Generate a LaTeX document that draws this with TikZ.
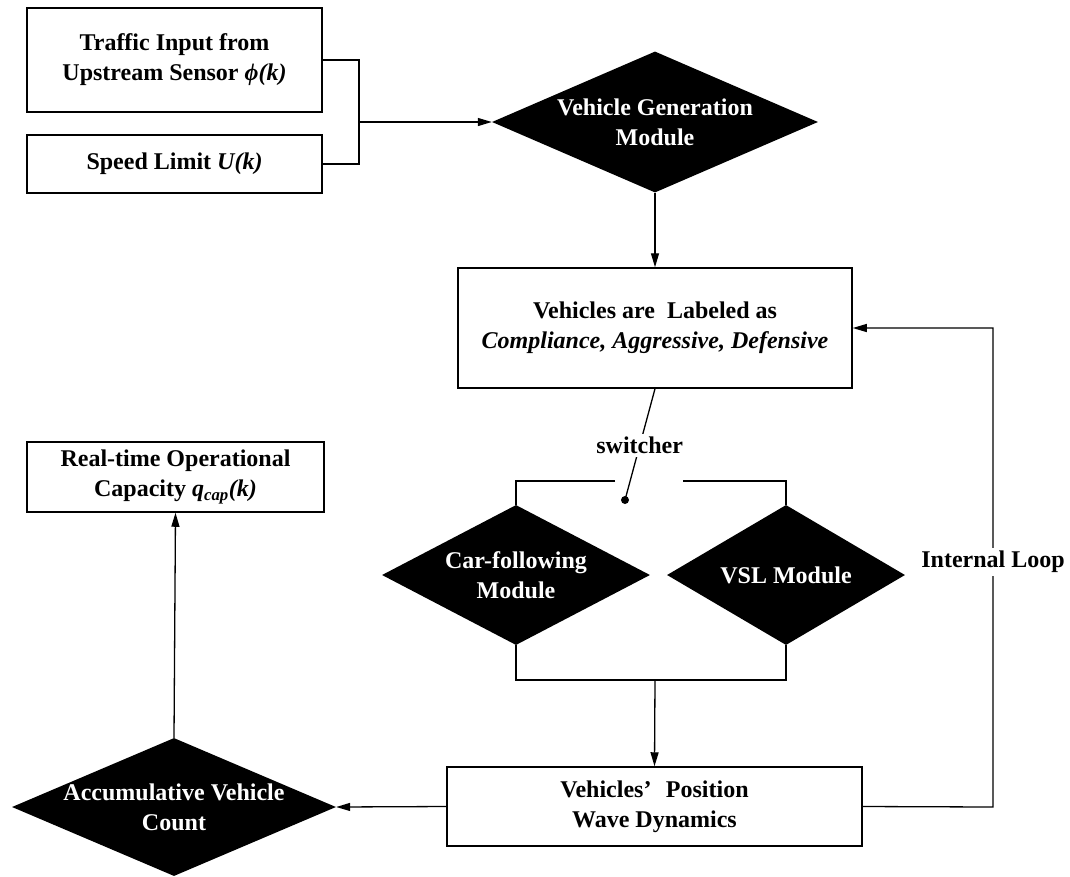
\documentclass[tikz,border=0pt]{standalone}
\usepackage{fontspec}
\setmainfont{Liberation Serif}
\usetikzlibrary{shapes.geometric,arrows.meta}
\begin{document}
\begin{tikzpicture}[x=1pt,y=-1pt,
  txt/.style={font=\fontsize{24}{30}\selectfont\bfseries},
  box/.style={txt, draw, line width=1.5pt, inner sep=0pt, align=center},
  dia/.style={diamond, fill=black, inner sep=0pt},
  wtxt/.style={txt, text=white, align=center, inner sep=0pt},
  line/.style={line width=1.3pt},
  arr/.style={line width=1.3pt, -{Triangle[length=14pt,width=8pt]}},
  lbl/.style={txt, fill=white, inner sep=3pt}]
\useasboundingbox (0,0) rectangle (1070,876);
% boxes
\node[box, minimum width=295pt, minimum height=104pt] (ti) at (174.5,60) {Traffic Input from\\Upstream Sensor \textit{ϕ(k)}};
\node[box, minimum width=295pt, minimum height=58pt] (sl) at (174.5,164) {Speed Limit \textit{U(k)}};
\node[box, minimum width=394pt, minimum height=120pt] (vl) at (655,328) {Vehicles are\ \ Labeled as\\\textit{Compliance, Aggressive, Defensive}};
\node[box, minimum width=415pt, minimum height=79pt] (vp) at (654.5,806.5) {Vehicles’\hspace{0.6em}Position\\Wave Dynamics};
\node[box, minimum width=297pt, minimum height=70pt] (rt) at (175.5,477) {Real-time Operational\\Capacity \textit{q\textsubscript{cap}(k)}};
% diamonds
\node[dia, minimum width=326pt, minimum height=141pt] (d1) at (655,122) {};
\node[wtxt] at (d1.center) {Vehicle Generation\\Module};
\node[dia, minimum width=268pt, minimum height=140pt] (cf) at (516,575) {};
\node[wtxt] at (cf.center) {Car-following\\Module};
\node[dia, minimum width=238pt, minimum height=140pt] (vsl) at (786,575) {};
\node[wtxt] at (vsl.center) {VSL Module};
\node[dia, minimum width=324pt, minimum height=138pt] (ac) at (174,807) {};
\node[wtxt] at (ac.center) {Accumulative Vehicle\\Count};
% coordinates
\coordinate (jn) at (359,122);
\coordinate (dot) at (625,500);
\coordinate (bl) at (615,481);
\coordinate (br) at (683,481);
\coordinate (mb) at (655,680);
\coordinate (lp) at (993,807);
% connectors
\draw[line] (ti.east) -| (jn);
\draw[line] (sl.east) -| (jn);
\draw[arr] (jn) -- (d1.west);
\draw[arr] (d1.south) -- (vl.north);
\draw[line] (vl.south) -- node[lbl, pos=0.51] {switcher} (dot);
\fill (dot) circle (4pt);
\draw[line] (bl) -| (cf.north);
\draw[line] (br) -| (vsl.north);
\draw[line] (cf.south) |- (mb) -| (vsl.south);
\draw[arr] (mb) -- (vp.north);
\draw[arr] (vp.west) -- (ac.east);
\draw[arr] (ac.north) -- (rt.south);
\draw[arr] (vp.east) -- (lp) |- node[lbl, pos=0.256] {Internal Loop} (vl.east);
\end{tikzpicture}
\end{document}
